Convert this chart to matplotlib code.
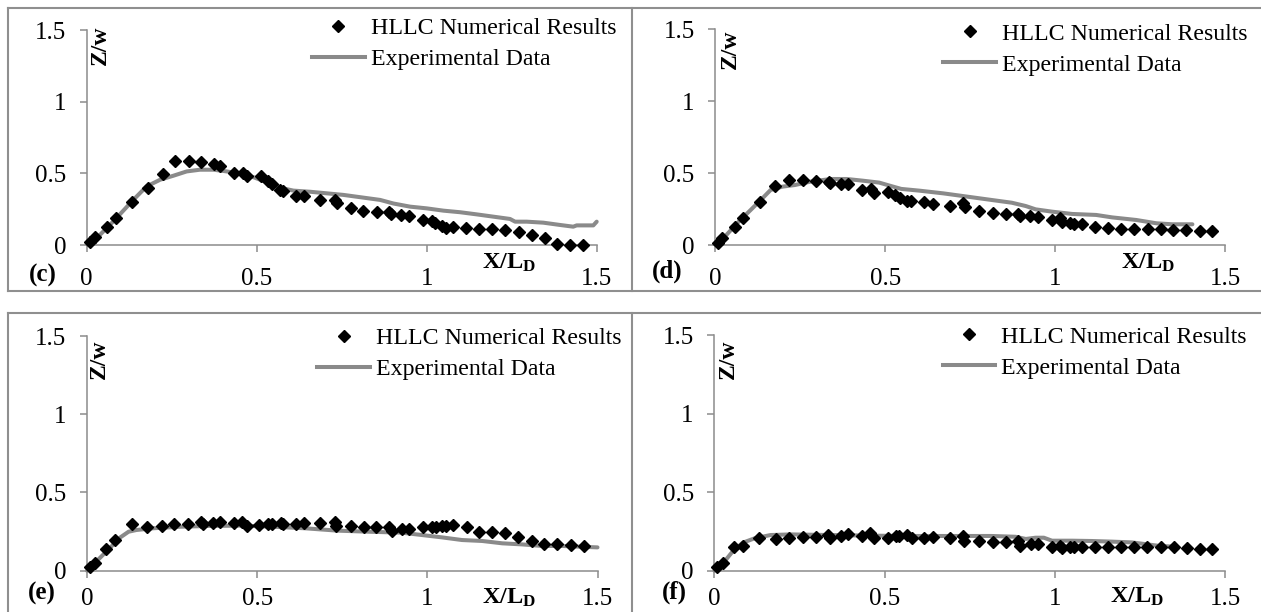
import matplotlib
matplotlib.use("Agg")
import matplotlib.pyplot as plt
from matplotlib.lines import Line2D

plt.rcParams['font.family'] = ['Liberation Serif', 'DejaVu Serif']
plt.rcParams['mathtext.fontset'] = 'custom'
plt.rcParams['mathtext.rm'] = 'Liberation Serif'
plt.rcParams['mathtext.bf'] = 'Liberation Serif:bold'
plt.rcParams['mathtext.it'] = 'Liberation Serif:italic'

# ---------------- data ----------------
panel_labels = ['(c)', '(d)', '(e)', '(f)']
series_labels = ['HLLC Numerical Results', 'Experimental Data']
x_ticks = [0, 0.5, 1, 1.5]
x_tick_labels = ['0', '0.5', '1', '1.5']
y_ticks = [0, 0.5, 1, 1.5]
y_tick_labels = ['0', '0.5', '1', '1.5']
x_label = r'$\mathbf{X/L_D}$'
y_label = 'Z/w'

c_num_x = [0.010, 0.025, 0.059, 0.085, 0.134, 0.179, 0.223, 0.259, 0.300, 0.336,
           0.373, 0.392, 0.434, 0.459, 0.471, 0.512, 0.534, 0.544, 0.569, 0.578,
           0.616, 0.639, 0.687, 0.730, 0.735, 0.776, 0.814, 0.855, 0.890, 0.895,
           0.924, 0.948, 0.990, 1.015, 1.024, 1.044, 1.057, 1.078, 1.116, 1.154,
           1.192, 1.230, 1.270, 1.309, 1.348, 1.384, 1.421, 1.461]
c_num_y = [0.023, 0.054, 0.128, 0.187, 0.297, 0.397, 0.498, 0.589, 0.584, 0.577,
           0.565, 0.549, 0.502, 0.502, 0.484, 0.479, 0.444, 0.425, 0.381, 0.374,
           0.339, 0.339, 0.315, 0.315, 0.291, 0.256, 0.240, 0.229, 0.229, 0.217,
           0.210, 0.205, 0.175, 0.170, 0.152, 0.133, 0.117, 0.124, 0.117, 0.112,
           0.110, 0.105, 0.093, 0.070, 0.047, 0.005, 0.0, 0.0]
c_exp_x = [0.005, 0.029, 0.078, 0.137, 0.176, 0.216, 0.255, 0.294, 0.333, 0.373,
           0.412, 0.451, 0.490, 0.529, 0.569, 0.608, 0.657, 0.755, 0.863, 0.902,
           0.951, 1.0, 1.049, 1.098, 1.147, 1.196, 1.245, 1.260, 1.294, 1.343,
           1.392, 1.431, 1.441, 1.490, 1.5]
c_exp_y = [0.0, 0.047, 0.164, 0.315, 0.409, 0.456, 0.484, 0.514, 0.526, 0.526,
           0.514, 0.498, 0.474, 0.439, 0.400, 0.380, 0.372, 0.350, 0.315, 0.290,
           0.268, 0.256, 0.240, 0.229, 0.214, 0.198, 0.182, 0.163, 0.163, 0.156,
           0.140, 0.128, 0.137, 0.137, 0.163]

d_num_x = [0.007, 0.021, 0.057, 0.083, 0.131, 0.177, 0.218, 0.257, 0.296, 0.334,
           0.338, 0.370, 0.391, 0.432, 0.458, 0.468, 0.508, 0.529, 0.543, 0.565,
           0.576, 0.614, 0.641, 0.689, 0.728, 0.733, 0.775, 0.816, 0.854, 0.889,
           0.895, 0.925, 0.948, 0.990, 1.013, 1.019, 1.043, 1.055, 1.078, 1.117,
           1.155, 1.193, 1.232, 1.271, 1.311, 1.346, 1.385, 1.424, 1.462]
d_num_y = [0.016, 0.046, 0.128, 0.185, 0.297, 0.410, 0.452, 0.452, 0.447, 0.441,
           0.429, 0.424, 0.424, 0.383, 0.387, 0.364, 0.371, 0.348, 0.325, 0.308,
           0.308, 0.301, 0.285, 0.271, 0.290, 0.262, 0.236, 0.220, 0.213, 0.213,
           0.202, 0.202, 0.197, 0.174, 0.185, 0.162, 0.155, 0.146, 0.146, 0.123,
           0.116, 0.109, 0.109, 0.109, 0.109, 0.104, 0.104, 0.097, 0.097]
d_exp_x = [0.004, 0.033, 0.069, 0.104, 0.139, 0.163, 0.198, 0.234, 0.281, 0.340,
           0.387, 0.435, 0.482, 0.517, 0.547, 0.600, 0.671, 0.742, 0.813, 0.872,
           0.913, 0.942, 0.990, 1.049, 1.120, 1.167, 1.238, 1.297, 1.344, 1.403]
d_exp_y = [0.0, 0.070, 0.162, 0.243, 0.325, 0.383, 0.406, 0.417, 0.441, 0.459,
           0.459, 0.447, 0.434, 0.410, 0.390, 0.378, 0.359, 0.336, 0.313, 0.294,
           0.271, 0.248, 0.232, 0.216, 0.209, 0.192, 0.174, 0.151, 0.144, 0.144]

e_num_x = [0.009, 0.024, 0.057, 0.083, 0.131, 0.177, 0.220, 0.257, 0.296, 0.334,
           0.340, 0.370, 0.390, 0.431, 0.456, 0.470, 0.505, 0.533, 0.544, 0.570,
           0.576, 0.615, 0.639, 0.686, 0.728, 0.733, 0.775, 0.813, 0.850, 0.887,
           0.895, 0.925, 0.946, 0.987, 1.013, 1.025, 1.043, 1.055, 1.076, 1.116,
           1.152, 1.190, 1.229, 1.267, 1.309, 1.344, 1.382, 1.421, 1.459]
e_num_y = [0.021, 0.051, 0.136, 0.196, 0.298, 0.281, 0.288, 0.296, 0.298, 0.309,
           0.298, 0.303, 0.313, 0.303, 0.313, 0.288, 0.292, 0.298, 0.298, 0.303,
           0.298, 0.296, 0.303, 0.303, 0.313, 0.286, 0.288, 0.281, 0.277, 0.281,
           0.256, 0.266, 0.266, 0.277, 0.281, 0.281, 0.288, 0.288, 0.292, 0.277,
           0.249, 0.249, 0.243, 0.217, 0.192, 0.168, 0.168, 0.164, 0.158]
e_exp_x = [0.0, 0.027, 0.063, 0.098, 0.122, 0.145, 0.193, 0.275, 0.358, 0.452,
           0.547, 0.641, 0.736, 0.830, 0.925, 0.984, 1.043, 1.102, 1.161, 1.220,
           1.279, 1.338, 1.397, 1.5]
e_exp_y = [0.0, 0.058, 0.136, 0.213, 0.249, 0.260, 0.271, 0.281, 0.286, 0.288,
           0.281, 0.271, 0.256, 0.249, 0.243, 0.228, 0.213, 0.196, 0.190, 0.175,
           0.168, 0.158, 0.158, 0.149]

f_num_x = [0.008, 0.024, 0.059, 0.085, 0.132, 0.180, 0.220, 0.259, 0.298, 0.334,
           0.340, 0.371, 0.393, 0.434, 0.458, 0.469, 0.509, 0.533, 0.542, 0.566,
           0.580, 0.616, 0.643, 0.692, 0.729, 0.734, 0.776, 0.817, 0.855, 0.890,
           0.896, 0.928, 0.949, 0.991, 1.014, 1.020, 1.044, 1.055, 1.079, 1.118,
           1.156, 1.193, 1.232, 1.271, 1.311, 1.348, 1.386, 1.425, 1.462]
f_num_y = [0.021, 0.051, 0.149, 0.157, 0.210, 0.199, 0.206, 0.212, 0.216, 0.227,
           0.210, 0.221, 0.231, 0.223, 0.238, 0.206, 0.210, 0.223, 0.221, 0.227,
           0.210, 0.210, 0.216, 0.206, 0.221, 0.191, 0.191, 0.180, 0.180, 0.189,
           0.157, 0.168, 0.168, 0.153, 0.157, 0.142, 0.153, 0.153, 0.153, 0.149,
           0.149, 0.149, 0.153, 0.153, 0.153, 0.153, 0.146, 0.138, 0.138]
f_exp_x = [0.0, 0.029, 0.053, 0.083, 0.118, 0.165, 0.224, 0.342, 0.460, 0.578,
           0.696, 0.814, 0.884, 0.914, 0.943, 0.967, 0.991, 1.050, 1.108, 1.167,
           1.226, 1.262, 1.309, 1.356]
f_exp_y = [0.0, 0.057, 0.121, 0.178, 0.206, 0.227, 0.231, 0.227, 0.223, 0.221,
           0.221, 0.221, 0.216, 0.202, 0.210, 0.210, 0.191, 0.191, 0.189, 0.185,
           0.180, 0.170, 0.157, 0.153]

# ---------------- layout (pixels) ----------------
W, H = 1261, 612
GRAY = '#8a8a8a'
AX_GRAY = '#8c8c8c'
FS = 17.2
TICK_FS = 18
MS = 5.8
LW = 2.9

panels = [
    dict(data=(c_num_x, c_num_y, c_exp_x, c_exp_y), box=(86.7, 596.7, 30.3, 245.0),
         leg=(312, 17.5), ylab=(13.3, -15.2), xlab=1.162, xlab_off=-6.5, tag=(42.5, 275.0)),
    dict(data=(d_num_x, d_num_y, d_exp_x, d_exp_y), box=(715.2, 1225.4, 29.3, 245.0),
         leg=(943.4, 23.0), ylab=(15.3, -19.7), xlab=1.192, xlab_off=-6.5, tag=(667.0, 271.7)),
    dict(data=(e_num_x, e_num_y, e_exp_x, e_exp_y), box=(87.0, 597.5, 336.0, 570.7),
         leg=(317.4, 327.5), ylab=(12.0, -23.0), xlab=1.161, xlab_off=-16.0, tag=(41.5, 593.5)),
    dict(data=(f_num_x, f_num_y, f_exp_x, f_exp_y), box=(714.4, 1225.4, 335.0, 570.7),
         leg=(942.6, 326.0), ylab=(13.6, -24.5), xlab=1.161, xlab_off=-14.5, tag=(674.0, 592.0)),
]

fig = plt.figure(figsize=(W / 100, H / 100), dpi=100)
fig.patch.set_facecolor('white')

# panel frames
frame_kw = dict(color='#8f8f8f', lw=1.5, transform=fig.transFigure, zorder=0)
def fx(px):
    return px / W
def fy(py):
    return 1 - py / H
for (x0, y0, x1, y1) in [(8.3, 8.3, W, 8.3), (8.3, 290.7, W, 290.7), (8.3, 313.3, W, 313.3),
                         (8.3, 8.3, 8.3, 290.7), (632.3, 8.3, 632.3, 290.7),
                         (8.3, 313.3, 8.3, H), (632.3, 313.3, 632.3, H)]:
    fig.add_artist(Line2D([fx(x0), fx(x1)], [fy(y0), fy(y1)], **frame_kw))

for i, p in enumerate(panels):
    x0, x1, yt, yb = p['box']
    top_row = i < 2
    ax = fig.add_axes([x0 / W, 1 - yb / H, (x1 - x0) / W, (yb - yt) / H])
    ax.set_facecolor('none')
    nx, ny, ex, ey = p['data']
    ax.plot(ex, ey, color=GRAY, lw=LW, solid_joinstyle='round', solid_capstyle='round',
            zorder=2, label=series_labels[1], clip_on=False)
    ax.plot(nx, ny, linestyle='none', marker='D', markersize=MS, color='black',
            zorder=3, label=series_labels[0], clip_on=False)
    ax.set_xlim(0, 1.5)
    ax.set_ylim(0, 1.5)
    for s in ['top', 'right']:
        ax.spines[s].set_visible(False)
    for s in ['left', 'bottom']:
        ax.spines[s].set_color(AX_GRAY)
        ax.spines[s].set_linewidth(1.1)
    ax.set_xticks(x_ticks)
    ax.set_xticklabels(x_tick_labels)
    ax.set_yticks(y_ticks)
    ax.set_yticklabels(y_tick_labels)
    ax.tick_params(axis='both', direction='out', length=4.8, width=1.1, color=AX_GRAY,
                   labelsize=TICK_FS, labelcolor='black')
    ax.tick_params(axis='x', pad=12.0 if top_row else 8.0)
    ax.tick_params(axis='y', pad=10.0)

    # axis titles
    ax.annotate(y_label, xy=(0, 1), xycoords='axes fraction', xytext=p['ylab'],
                textcoords='offset pixels', rotation=90, ha='center', va='center',
                fontsize=17, fontweight='bold')
    ax.annotate(x_label, xy=(p['xlab'], 0), xycoords='data', xytext=(0, p['xlab_off']),
                textcoords='offset pixels', ha='left', va='top', fontsize=17.5)

    # legend
    handles = [Line2D([], [], linestyle='none', marker='D', markersize=MS, color='black'),
               Line2D([], [], color=GRAY, lw=LW)]
    lx, ly = p['leg']
    ax.legend(handles, series_labels, loc='upper left', bbox_to_anchor=(lx / W, 1 - ly / H),
              bbox_transform=fig.transFigure, frameon=False, borderpad=0, borderaxespad=0,
              handlelength=2.2, handletextpad=0.25, labelspacing=0.38, fontsize=FS,
              numpoints=1)

    # panel tag
    tx, ty = p['tag']
    fig.text(tx / W, 1 - ty / H, panel_labels[i], ha='center', va='center',
             fontsize=18, fontweight='bold')

fig.savefig('out.png', dpi=100, facecolor='white')
